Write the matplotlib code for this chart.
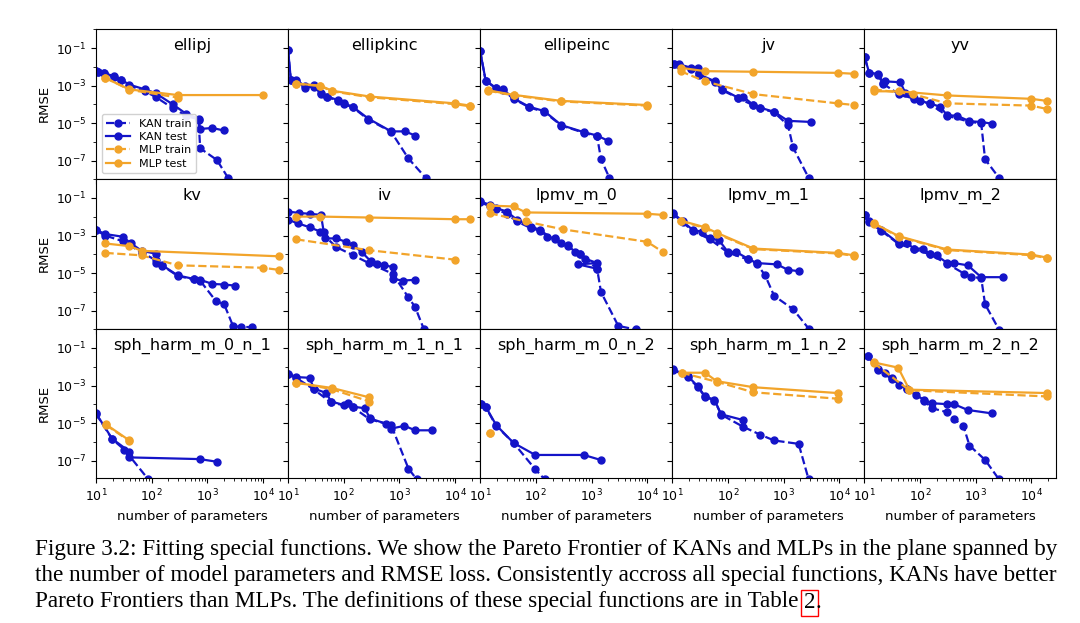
import numpy as np
import matplotlib
matplotlib.use("Agg")
import matplotlib.pyplot as plt
from matplotlib.ticker import LogLocator, NullFormatter
from matplotlib.patches import Rectangle

# Each series: list of (log10(number of parameters), log10(RMSE))
TITLES = ["ellipj", "ellipkinc", "ellipeinc", "jv", "yv",
          "kv", "iv", "lpmv_m_0", "lpmv_m_1", "lpmv_m_2",
          "sph_harm_m_0_n_1", "sph_harm_m_1_n_1", "sph_harm_m_0_n_2",
          "sph_harm_m_1_n_2", "sph_harm_m_2_n_2"]

ELLIPJ_KAN_TEST = [(1.0,-2.2),(1.04,-2.26),(1.14,-2.32),(1.32,-2.5),(1.45,-2.68),(1.6,-2.95),(1.88,-3.2),(2.07,-3.4),(2.38,-4.0),(2.62,-4.5),(2.84,-4.75),(2.87,-5.3),(3.09,-5.25),(3.29,-5.38)]
ELLIPJ_KAN_TRAIN = [(1.0,-2.2),(1.04,-2.26),(1.14,-2.32),(1.32,-2.55),(1.45,-2.7),(1.6,-3.0),(1.88,-3.3),(2.07,-3.6),(2.38,-4.2),(2.62,-4.6),(2.84,-4.8),(2.87,-6.33),(3.17,-6.95),(3.37,-7.9)]
ELLIPJ_MLP_TEST = [(1.17,-2.6),(1.6,-3.2),(2.47,-3.5),(3.99,-3.5)]
ELLIPJ_MLP_TRAIN = [(1.17,-2.58),(1.6,-3.22),(2.47,-3.63)]

ELLIPKINC_KAN_TEST = [(1.0,-1.1),(1.05,-2.68),(1.15,-2.68),(1.3,-3.04),(1.46,-2.95),(1.6,-3.4),(1.7,-3.58),(1.89,-3.76),(2.0,-3.94),(2.16,-4.12),(2.44,-4.75),(2.85,-5.43),(3.1,-5.43),(3.28,-5.65)]
ELLIPKINC_KAN_TRAIN = [(1.0,-1.1),(1.05,-2.7),(1.15,-2.75),(1.3,-3.1),(1.46,-3.05),(1.6,-3.45),(1.7,-3.6),(1.89,-3.8),(2.0,-3.98),(2.16,-4.15),(2.44,-4.8),(2.85,-5.45),(3.16,-6.87),(3.47,-7.9)]
ELLIPKINC_MLP_TEST = [(1.15,-2.89),(1.58,-3.0),(1.79,-3.27),(2.47,-3.58),(3.99,-3.94),(4.27,-4.06)]
ELLIPKINC_MLP_TRAIN = [(1.15,-2.9),(1.58,-3.02),(1.79,-3.3),(2.47,-3.62),(3.99,-3.98),(4.27,-4.1)]

ELLIPEINC_KAN_TEST = [(1.0,-1.14),(1.1,-2.73),(1.29,-3.13),(1.41,-3.2),(1.6,-3.67),(1.88,-4.12),(2.15,-4.35),(2.46,-5.1),(2.86,-5.47),(3.1,-5.65),(3.29,-5.92)]
ELLIPEINC_KAN_TRAIN = [(1.0,-1.14),(1.1,-2.75),(1.29,-3.15),(1.41,-3.25),(1.6,-3.7),(1.88,-4.15),(2.15,-4.4),(2.46,-5.12),(2.86,-5.5),(3.1,-5.7),(3.17,-6.9),(3.32,-7.9)]
ELLIPEINC_MLP_TEST = [(1.15,-3.25),(1.6,-3.49),(2.46,-3.81),(4.0,-4.03)]
ELLIPEINC_MLP_TRAIN = [(1.15,-3.27),(1.6,-3.52),(2.46,-3.84),(4.0,-4.06)]

JV_KAN_TEST = [(1.03,-1.83),(1.12,-1.86),(1.34,-2.05),(1.46,-2.05),(1.48,-2.4),(1.77,-2.77),(1.9,-3.2),(2.18,-3.63),(2.27,-3.58),(2.46,-4.03),(2.58,-4.17),(2.83,-4.39),(3.08,-4.87),(3.5,-4.93)]
JV_KAN_TRAIN = [(1.03,-1.85),(1.12,-1.9),(1.34,-2.1),(1.48,-2.45),(1.77,-2.8),(1.9,-3.25),(2.18,-3.65),(2.46,-4.05),(2.58,-4.2),(2.83,-4.42),(3.08,-5.1),(3.17,-6.28),(3.45,-7.9)]
JV_MLP_TEST = [(1.15,-2.05),(1.59,-2.23),(2.46,-2.26),(3.97,-2.32),(4.27,-2.37)]
JV_MLP_TRAIN = [(1.15,-2.23),(1.59,-2.77),(2.46,-3.45),(3.97,-3.94),(4.27,-4.03)]

YV_KAN_TEST = [(1.01,-1.5),(1.09,-2.32),(1.25,-2.37),(1.34,-2.86),(1.37,-2.77),(1.65,-2.82),(1.74,-3.4),(1.9,-3.67),(2.0,-3.81),(2.18,-3.94),(2.36,-4.12),(2.49,-4.57),(2.67,-4.6),(2.89,-4.89),(3.1,-4.93),(3.29,-5.02)]
YV_KAN_TRAIN = [(1.01,-1.5),(1.09,-2.35),(1.25,-2.45),(1.34,-2.9),(1.62,-3.45),(1.9,-3.7),(2.18,-3.98),(2.49,-4.6),(2.89,-4.92),(3.1,-5.0),(3.17,-6.91),(3.42,-7.9)]
YV_MLP_TEST = [(1.17,-3.3),(1.62,-3.3),(2.49,-3.52),(4.0,-3.7),(4.28,-3.81)]
YV_MLP_TRAIN = [(1.17,-3.2),(1.87,-3.45),(2.49,-3.94),(4.0,-4.06),(4.28,-4.24)]

KV_KAN_TEST = [(1.0,-2.7),(1.17,-2.92),(1.48,-3.06),(1.63,-3.42),(1.82,-3.81),(2.07,-3.96),(2.07,-4.46),(2.19,-4.58),(2.47,-5.12),(2.75,-5.3),(2.87,-5.35),(3.09,-5.57),(3.3,-5.6),(3.5,-5.66)]
KV_KAN_TRAIN = [(1.0,-2.72),(1.17,-3.0),(1.48,-3.3),(1.82,-3.9),(2.07,-4.3),(2.19,-4.6),(2.47,-5.15),(2.75,-5.32),(2.87,-5.4),(3.15,-6.47),(3.3,-6.65),(3.46,-7.81),(3.61,-7.86),(3.8,-7.86)]
KV_MLP_TEST = [(1.17,-3.42),(1.6,-3.56),(1.82,-3.81),(4.28,-4.1)]
KV_MLP_TRAIN = [(1.17,-3.92),(1.82,-4.05),(2.47,-4.58),(3.99,-4.71),(4.28,-4.82)]

IV_KAN_TEST = [(1.0,-1.72),(1.2,-1.8),(1.39,-1.84),(1.59,-1.9),(1.64,-2.79),(1.67,-3.15),(1.86,-3.15),(2.04,-3.33),(2.17,-3.51),(2.32,-3.87),(2.48,-4.35),(2.6,-4.53),(2.73,-4.58),(2.88,-4.67),(2.88,-5.3),(3.06,-5.39),(3.28,-5.35)]
IV_KAN_TRAIN = [(1.0,-2.16),(1.17,-2.34),(1.39,-2.56),(1.58,-2.79),(1.86,-3.6),(2.17,-4.05),(2.45,-4.46),(2.88,-5.03),(3.16,-6.29),(3.28,-6.79),(3.44,-7.99)]
IV_MLP_TEST = [(1.15,-1.99),(1.58,-1.99),(2.46,-2.04),(4.0,-2.13),(4.27,-2.13)]
IV_MLP_TRAIN = [(1.15,-3.2),(2.46,-3.78),(4.0,-4.28)]

LPMV0_KAN_TEST = [(1.0,-1.18),(1.17,-1.36),(1.29,-1.54),(1.48,-1.72),(1.66,-2.16),(1.91,-2.52),(2.08,-2.7),(2.2,-3.06),(2.35,-3.15),(2.45,-3.42),(2.58,-3.51),(2.7,-3.87),(2.8,-3.96),(2.89,-4.23),(3.1,-4.46),(2.76,-4.53),(3.1,-4.76)]
LPMV0_KAN_TRAIN = [(1.0,-1.2),(1.17,-1.45),(1.29,-1.6),(1.48,-1.85),(1.66,-2.25),(1.91,-2.6),(2.08,-2.75),(2.35,-3.2),(2.58,-3.55),(2.8,-4.0),(3.1,-4.76),(3.17,-6.0),(3.48,-7.8),(3.79,-7.99)]
LPMV0_MLP_TEST = [(1.17,-1.41),(1.6,-1.45),(1.82,-1.77),(4.0,-1.84),(4.28,-1.9)]
LPMV0_MLP_TRAIN = [(1.17,-1.81),(1.82,-2.25),(2.49,-2.67),(4.0,-3.33),(4.28,-3.87)]

LPMV1_KAN_TEST = [(1.02,-1.81),(1.19,-2.25),(1.37,-2.7),(1.53,-2.79),(1.68,-3.15),(1.84,-3.24),(2.0,-3.87),(2.15,-3.87),(2.36,-4.23),(2.52,-4.46),(2.88,-4.53),(3.08,-4.82),(3.27,-4.89)]
LPMV1_KAN_TRAIN = [(1.02,-1.85),(1.19,-2.3),(1.37,-2.75),(1.68,-3.2),(2.0,-3.9),(2.36,-4.27),(2.52,-4.5),(2.67,-5.12),(2.83,-6.2),(3.17,-6.91),(3.45,-7.94)]
LPMV1_MLP_TEST = [(1.15,-2.2),(1.59,-2.56),(1.8,-2.85),(2.46,-3.69),(3.97,-3.92),(4.27,-4.05)]
LPMV1_MLP_TRAIN = [(1.15,-2.22),(1.59,-2.6),(1.8,-2.9),(2.46,-3.72),(3.97,-3.95),(4.27,-4.08)]

LPMV2_KAN_TEST = [(1.01,-1.9),(1.09,-2.25),(1.31,-2.7),(1.62,-3.42),(1.77,-3.42),(1.9,-3.69),(2.05,-3.69),(2.18,-3.96),(2.3,-4.05),(2.49,-4.46),(2.61,-4.46),(2.86,-4.58),(3.1,-5.21),(3.5,-5.21)]
LPMV2_KAN_TRAIN = [(1.01,-1.92),(1.09,-2.3),(1.31,-2.75),(1.62,-3.45),(1.9,-3.72),(2.18,-4.0),(2.49,-4.5),(2.8,-5.03),(2.92,-5.21),(3.1,-5.25),(3.17,-6.65),(3.42,-8.0)]
LPMV2_MLP_TEST = [(1.17,-2.34),(1.62,-3.03),(2.49,-3.74),(4.0,-4.01),(4.28,-4.17)]
LPMV2_MLP_TRAIN = [(1.17,-2.36),(1.62,-3.06),(2.49,-3.77),(4.0,-4.04),(4.28,-4.2)]

SPH01_KAN_TEST = [(1.0,-4.48),(1.29,-5.83),(1.6,-6.51),(1.6,-6.82),(2.86,-6.91),(3.17,-7.05)]
SPH01_KAN_TRAIN = [(1.0,-4.5),(1.29,-5.85),(1.51,-6.41),(1.94,-7.99)]
SPH01_MLP_TEST = [(1.18,-5.07),(1.6,-5.92)]
SPH01_MLP_TRAIN = [(1.18,-5.1),(1.6,-5.95)]

SPH11_KAN_TEST = [(1.0,-2.37),(1.15,-2.55),(1.39,-2.59),(1.46,-3.16),(1.69,-3.4),(1.77,-3.85),(2.0,-4.03),(2.07,-3.94),(2.16,-4.12),(2.38,-4.21),(2.47,-4.75),(2.75,-5.02),(2.85,-5.29),(3.09,-5.14),(3.28,-5.38),(3.59,-5.38)]
SPH11_KAN_TRAIN = [(1.0,-2.4),(1.15,-2.6),(1.46,-3.2),(1.77,-3.9),(2.16,-4.15),(2.47,-4.8),(2.85,-5.1),(3.16,-7.41),(3.31,-7.99)]
SPH11_MLP_TEST = [(1.15,-2.86),(1.79,-3.13),(2.46,-3.63)]
SPH11_MLP_TRAIN = [(1.15,-2.84),(1.79,-3.2),(2.46,-3.85)]

SPH02_KAN_TEST = [(1.02,-3.99),(1.1,-4.12),(1.29,-5.11),(1.6,-6.05),(1.99,-6.69),(2.86,-6.69),(3.17,-6.96)]
SPH02_KAN_TRAIN = [(1.02,-4.0),(1.1,-4.15),(1.29,-5.15),(1.6,-6.05),(1.99,-7.45),(2.16,-7.99)]
SPH02_MLP_TEST = [(1.17,-5.52)]
SPH02_MLP_TRAIN = [(1.17,-5.52)]

SPH12_KAN_TEST = [(1.02,-2.14),(1.28,-2.5),(1.46,-3.04),(1.59,-3.58),(1.76,-3.76),(1.88,-4.53),(2.28,-4.84)]
SPH12_KAN_TRAIN = [(1.02,-2.16),(1.28,-2.55),(1.46,-3.08),(1.59,-3.6),(1.76,-3.8),(1.88,-4.55),(2.28,-5.2),(2.58,-5.61),(2.83,-5.92),(3.27,-6.1),(3.45,-7.99)]
SPH12_MLP_TEST = [(1.17,-2.32),(1.59,-2.32),(1.8,-2.77),(2.46,-3.09),(3.97,-3.4)]
SPH12_MLP_TRAIN = [(1.17,-2.32),(1.8,-2.8),(2.46,-3.36),(3.97,-3.7)]

SPH22_KAN_TEST = [(1.07,-1.41),(1.25,-2.14),(1.37,-2.32),(1.5,-2.59),(1.62,-2.95),(1.77,-3.16),(1.93,-3.52),(2.08,-3.76),(2.21,-3.94),(2.49,-3.99),(2.61,-3.99),(2.86,-4.3),(3.29,-4.48)]
SPH22_KAN_TRAIN = [(1.07,-1.43),(1.25,-2.18),(1.5,-2.65),(1.77,-3.2),(2.08,-3.8),(2.21,-4.2),(2.49,-4.42),(2.61,-4.78),(2.78,-5.14),(2.89,-6.19),(3.17,-6.95),(3.42,-7.99)]
SPH22_MLP_TEST = [(1.17,-1.77),(1.61,-2.05),(1.81,-3.22),(4.28,-3.4)]
SPH22_MLP_TRAIN = [(1.17,-1.8),(1.81,-3.25),(4.28,-3.58)]

PANELS = [
    (ELLIPJ_KAN_TRAIN, ELLIPJ_KAN_TEST, ELLIPJ_MLP_TRAIN, ELLIPJ_MLP_TEST),
    (ELLIPKINC_KAN_TRAIN, ELLIPKINC_KAN_TEST, ELLIPKINC_MLP_TRAIN, ELLIPKINC_MLP_TEST),
    (ELLIPEINC_KAN_TRAIN, ELLIPEINC_KAN_TEST, ELLIPEINC_MLP_TRAIN, ELLIPEINC_MLP_TEST),
    (JV_KAN_TRAIN, JV_KAN_TEST, JV_MLP_TRAIN, JV_MLP_TEST),
    (YV_KAN_TRAIN, YV_KAN_TEST, YV_MLP_TRAIN, YV_MLP_TEST),
    (KV_KAN_TRAIN, KV_KAN_TEST, KV_MLP_TRAIN, KV_MLP_TEST),
    (IV_KAN_TRAIN, IV_KAN_TEST, IV_MLP_TRAIN, IV_MLP_TEST),
    (LPMV0_KAN_TRAIN, LPMV0_KAN_TEST, LPMV0_MLP_TRAIN, LPMV0_MLP_TEST),
    (LPMV1_KAN_TRAIN, LPMV1_KAN_TEST, LPMV1_MLP_TRAIN, LPMV1_MLP_TEST),
    (LPMV2_KAN_TRAIN, LPMV2_KAN_TEST, LPMV2_MLP_TRAIN, LPMV2_MLP_TEST),
    (SPH01_KAN_TRAIN, SPH01_KAN_TEST, SPH01_MLP_TRAIN, SPH01_MLP_TEST),
    (SPH11_KAN_TRAIN, SPH11_KAN_TEST, SPH11_MLP_TRAIN, SPH11_MLP_TEST),
    (SPH02_KAN_TRAIN, SPH02_KAN_TEST, SPH02_MLP_TRAIN, SPH02_MLP_TEST),
    (SPH12_KAN_TRAIN, SPH12_KAN_TEST, SPH12_MLP_TRAIN, SPH12_MLP_TEST),
    (SPH22_KAN_TRAIN, SPH22_KAN_TEST, SPH22_MLP_TRAIN, SPH22_MLP_TEST),
]
LEGEND = ["KAN train", "KAN test", "MLP train", "MLP test"]
KAN_C = "#1414c8"
MLP_C = "#f2a42a"

fig = plt.figure(figsize=(10.8, 6.23), dpi=100)
axes = fig.subplots(3, 5, sharex=True, sharey=True,
                    gridspec_kw=dict(left=0.0889, right=0.978, top=0.954, bottom=0.232,
                                     wspace=0, hspace=0))

def pts(s):
    a = np.array(s, dtype=float)
    return 10 ** a[:, 0], 10 ** a[:, 1]

for i, ax in enumerate(axes.flat):
    kt, kv, mt, mv = PANELS[i]
    styles = [(kt, KAN_C, "--"), (kv, KAN_C, "-"), (mt, MLP_C, "--"), (mv, MLP_C, "-")]
    for (s, c, ls), lab in zip(styles, LEGEND):
        x, y = pts(s)
        ax.plot(x, y, ls=ls, color=c, marker="o", ms=5, lw=1.6, label=lab)
    ax.set_xscale("log"); ax.set_yscale("log")
    ax.set_xlim(10, 2.8e4); ax.set_ylim(1.15e-8, 1.07)
    ax.set_yticks([1e-1, 1e-3, 1e-5, 1e-7])
    ax.yaxis.set_minor_locator(LogLocator(subs=[], numticks=20))
    ax.yaxis.set_minor_formatter(NullFormatter())
    ax.set_xticks([1e1, 1e2, 1e3, 1e4])
    ax.xaxis.set_minor_locator(LogLocator(subs=np.arange(2, 10), numticks=20))
    ax.tick_params(labelsize=9)
    ax.text(0.5, 0.94, TITLES[i], transform=ax.transAxes, ha="center", va="top", fontsize=11.5)
    if i % 5 == 0:
        ax.set_ylabel("RMSE", fontsize=9.5)
    if i >= 10:
        ax.set_xlabel("number of parameters", fontsize=9.5)

axes[0, 0].legend(loc="lower left", fontsize=8, handlelength=2.2, borderpad=0.4,
                  labelspacing=0.3, framealpha=0.9)

cap_lines = [
    "Figure 3.2: Fitting special functions. We show the Pareto Frontier of KANs and MLPs in the plane spanned by",
    "the number of model parameters and RMSE loss. Consistently accross all special functions, KANs have better",
    "Pareto Frontiers than MLPs. The definitions of these special functions are in Table ",
]
ys = [550, 576, 602]
x0 = 35 / 1080
target_w = 1065 - 35
fig.canvas.draw()
r = fig.canvas.get_renderer()
fs = 15
texts = []
for t, yp in zip(cap_lines, ys):
    txt = fig.text(x0, 1 - yp / 623, t, fontsize=fs, family="Liberation Serif", va="center", ha="left")
    texts.append(txt)
# scale font so the first line spans the caption width of the reference
w0 = texts[0].get_window_extent(r).width
fs2 = fs * target_w / w0
for txt in texts:
    txt.set_fontsize(fs2)
fig.canvas.draw()
bb = texts[2].get_window_extent(r)
xend = bb.x1 / 1080
t2 = fig.text(xend, 1 - 602 / 623, "2", fontsize=fs2, family="Liberation Serif", va="center", ha="left")
fig.text(xend + 11 / 1080, 1 - 602 / 623, ".", fontsize=fs2, family="Liberation Serif", va="center", ha="left")
fig.patches.append(Rectangle((xend - 3 / 1080, 1 - 616 / 623), 17 / 1080, 26 / 623,
                             transform=fig.transFigure, fill=False, ec="red", lw=1))

fig.savefig("out.png", dpi=100)
